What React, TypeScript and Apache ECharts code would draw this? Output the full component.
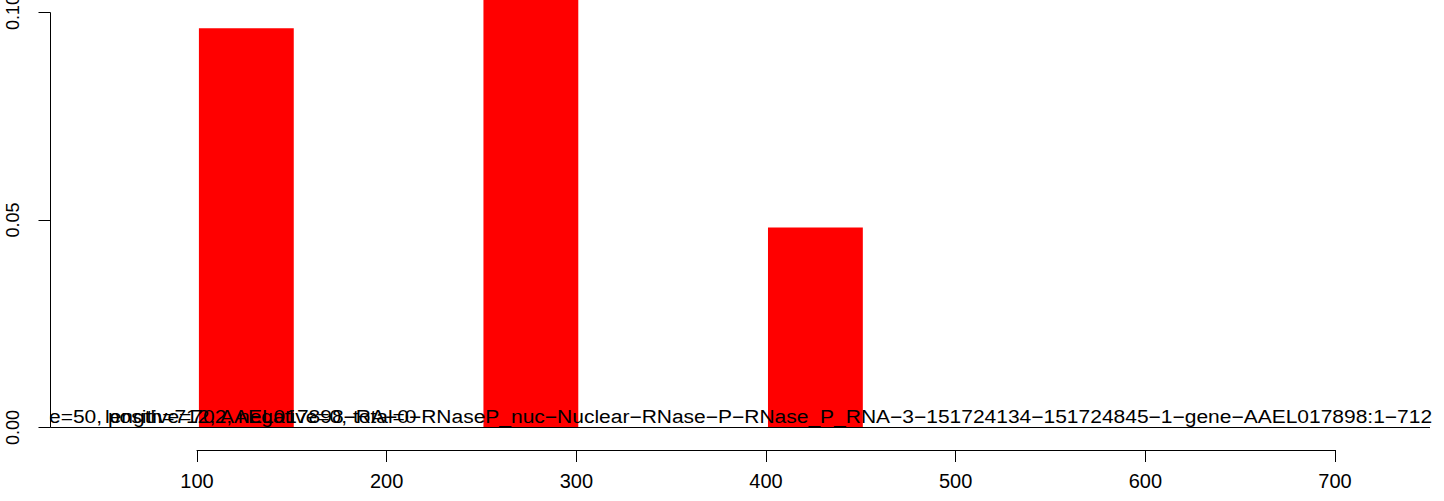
import React, { useEffect, useRef } from "react";
import * as echarts from "echarts";

const binStarts = [101, 251, 401];
const binEnds = [151, 301, 451];
const binValues = [0.0962, 0.12, 0.0482];
const xTickInterval = 100;
const xTickMin = 100;
const xTickMax = 700;
const yTicks = [0, 0.05, 0.1];
const xRange = [22.76, 750];
const yRange = [0, 0.10301];
const infoText = "binsize=50, positive=702, negative=0, total=0";
const titleText =
  "length=712, AAEL017898\u2212RA\u22120\u2212RNaseP_nuc\u2212Nuclear\u2212RNase\u2212P\u2212RNase_P_RNA\u22123\u2212151724134\u2212151724845\u22121\u2212gene\u2212AAEL017898:1\u2212712";

const FONT = "'Liberation Sans', Arial, Helvetica, sans-serif";
const FS = 18;
const SX = 1.166;

function measure(t: string): number {
  const c = document.createElement("canvas");
  const ctx = c.getContext("2d");
  if (!ctx) return 0;
  ctx.font = `${FS}px ${FONT}`;
  return ctx.measureText(t).width;
}

export default function App() {
  const ref = useRef<HTMLDivElement>(null);
  useEffect(() => {
    if (!ref.current) return;
    const chart = echarts.init(ref.current, null, { renderer: "svg" });
    const hidden = measure("binsiz") * SX;
    const option: any = {
      animation: false,
      backgroundColor: "#ffffff",
      grid: [
        { left: 50.5, right: 14, top: 0, height: 427.5, outerBoundsMode: "none", containLabel: false },
        { left: 197, right: 109, top: 449, height: 1, outerBoundsMode: "none", containLabel: false },
      ],
      xAxis: [
        { type: "value", gridIndex: 0, min: xRange[0], max: xRange[1], show: false },
        {
          type: "value",
          gridIndex: 1,
          min: xTickMin,
          max: xTickMax,
          interval: xTickInterval,
          axisLine: { show: true, lineStyle: { color: "#000", width: 1 } },
          axisTick: { show: true, length: 12, lineStyle: { color: "#000", width: 1 } },
          axisLabel: { color: "#000", fontSize: 20, fontFamily: FONT, margin: 21 },
          splitLine: { show: false },
        },
      ],
      yAxis: [
        {
          type: "value",
          gridIndex: 0,
          min: yRange[0],
          max: yRange[1],
          z: 10,
          axisLine: { show: false },
          axisTick: { show: true, length: 12, customValues: yTicks, lineStyle: { color: "#000", width: 1 } },
          axisLabel: {
            customValues: yTicks,
            rotate: 90,
            formatter: (v: number) => v.toFixed(2),
            align: "center",
            verticalAlign: "bottom",
            margin: 29,
            color: "#000",
            fontSize: FS,
            fontFamily: FONT,
          },
          splitLine: { show: false },
        },
        { type: "value", gridIndex: 1, show: false },
      ],
      series: [
        {
          type: "custom",
          xAxisIndex: 0,
          yAxisIndex: 0,
          z: 2,
          encode: { x: [0, 1], y: 2 },
          data: binStarts.map((s, i) => [s, binEnds[i], binValues[i]]),
          renderItem: (params: any, api: any) => {
            const p0 = api.coord([api.value(0), api.value(2)]);
            const p1 = api.coord([api.value(1), 0]);
            const cs = params.coordSys;
            const shape = echarts.graphic.clipRectByRect(
              { x: p0[0], y: p0[1], width: p1[0] - p0[0], height: p1[1] - p0[1] },
              { x: cs.x, y: cs.y, width: cs.width, height: cs.height }
            );
            if (!shape) return null;
            return { type: "rect", shape, style: { fill: "#ff0000", stroke: null } };
          },
        },
        {
          type: "line",
          xAxisIndex: 0,
          yAxisIndex: 0,
          z: 3,
          symbol: "none",
          silent: true,
          clip: false,
          lineStyle: { color: "#000", width: 1 },
          data: [
            [xRange[0], yTicks[0]],
            [xRange[0], yTicks[yTicks.length - 1]],
          ],
        },
        {
          type: "line",
          xAxisIndex: 0,
          yAxisIndex: 0,
          z: 3,
          symbol: "none",
          silent: true,
          lineStyle: { color: "#000", width: 1 },
          data: [
            [xRange[0], 0],
            [xRange[1], 0],
          ],
        },
      ],
      graphic: [
        {
          type: "text",
          z: 5,
          x: 49 - hidden,
          y: 417,
          scaleX: SX,
          style: { text: infoText, fill: "#000", font: `${FS}px ${FONT}`, textAlign: "left", textVerticalAlign: "middle" },
        },
        {
          type: "text",
          z: 5,
          x: 105,
          y: 417,
          scaleX: SX,
          style: { text: titleText, fill: "#000", font: `${FS}px ${FONT}`, textAlign: "left", textVerticalAlign: "middle" },
        },
        {
          type: "rect",
          z: 6,
          shape: { x: 0, y: 402, width: 49.5, height: 24 },
          style: { fill: "#ffffff" },
        },
      ],
    };
    chart.setOption(option);
    return () => chart.dispose();
  }, []);
  return (
    <div
      ref={ref}
      style={{ position: "absolute", left: 0, top: 0, width: 1444, height: 501 }}
    />
  );
}
